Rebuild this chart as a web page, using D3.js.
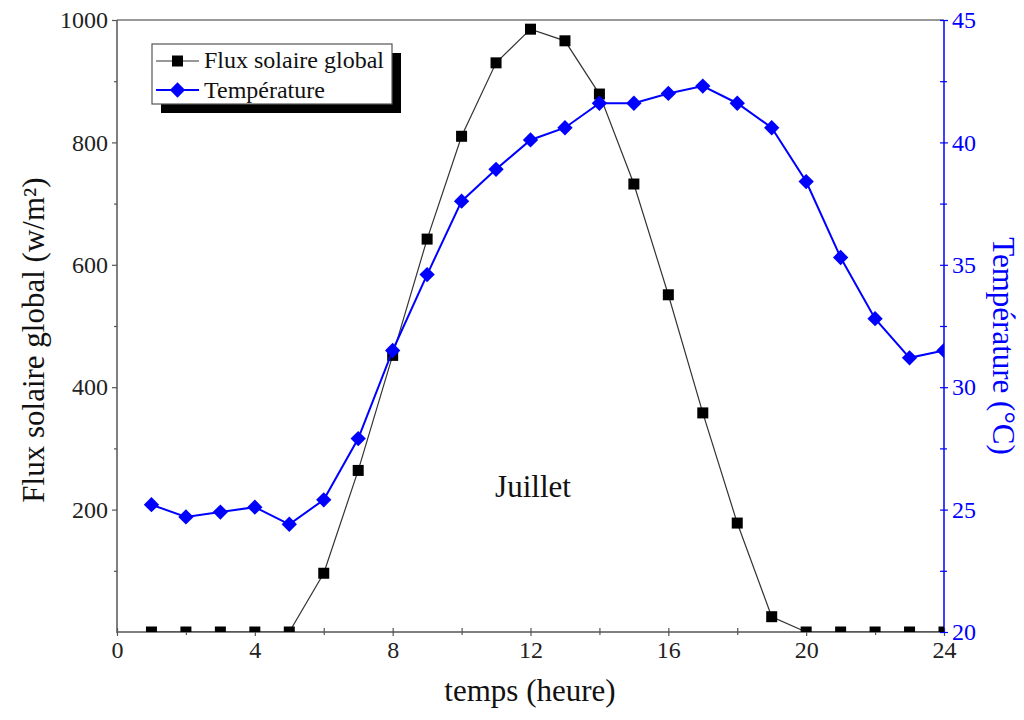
<!DOCTYPE html>
<html>
<head>
<meta charset="utf-8">
<script src="https://cdn.jsdelivr.net/npm/d3@7"></script>
<style>
  body { margin: 0; background: #fff; }
  text { font-family: "Liberation Serif", "Times New Roman", serif; }
</style>
</head>
<body>
<svg id="chart" width="1024" height="720"></svg>
<script>
const hours = [1,2,3,4,5,6,7,8,9,10,11,12,13,14,15,16,17,18,19,20,21,22,23,24];
const flux = [0,0,0,0,0,96,264,452,642,810,930,985,966,879,732,551,358,178,25,0,0,0,0,0];
const temperature = [25.2,24.7,24.9,25.1,24.4,25.4,27.9,31.5,34.6,37.6,38.9,40.1,40.6,41.6,41.6,42.0,42.3,41.6,40.6,38.4,35.3,32.8,31.2,31.5];
const xTicks = [0,4,8,12,16,20,24];
const fluxTicks = [200,400,600,800,1000];
const tempTicks = [20,25,30,35,40,45];
const seriesNames = ["Flux solaire global", "Température"];

const svg = d3.select("#chart");
const L = 117, R = 944, T = 20, B = 632;
const x = d3.scaleLinear().domain([0,24]).range([L,R]);
const yF = d3.scaleLinear().domain([0,1000]).range([B,T]);
const yT = d3.scaleLinear().domain([20,45]).range([B,T]);

const axisGray = "#555";
const blue = "#0000ff";
const tickFont = 24;
const titleFont = 31;

svg.append("defs").append("clipPath").attr("id","plot")
  .append("rect").attr("x",L).attr("y",T).attr("width",R-L).attr("height",B-T);

// top border
svg.append("line").attr("x1",L).attr("x2",R).attr("y1",T).attr("y2",T)
  .attr("stroke","#777").attr("stroke-width",1.5);

// left axis
const gL = svg.append("g").attr("transform",`translate(${L},0)`)
  .call(d3.axisLeft(yF).tickValues(fluxTicks).tickSize(5).tickPadding(4).tickFormat(d3.format("d")));
gL.append("g").call(d3.axisLeft(yF).tickValues([100,300,500,700,900]).tickSize(3).tickFormat(""));
gL.selectAll(".domain").remove();
gL.selectAll("line").attr("stroke",axisGray).attr("stroke-width",1.2);
gL.selectAll("text").attr("font-size",tickFont).attr("fill","#222").attr("font-family","Liberation Serif");
svg.append("line").attr("x1",L).attr("x2",L).attr("y1",T).attr("y2",B+1).attr("stroke",axisGray).attr("stroke-width",1.5);

// bottom axis
const gB = svg.append("g").attr("transform",`translate(0,${B})`)
  .call(d3.axisBottom(x).tickValues(xTicks).tickSize(4).tickPadding(5).tickFormat(d3.format("d")));
gB.append("g").call(d3.axisBottom(x).tickValues([2,6,10,14,18,22]).tickSize(3).tickFormat(""));
gB.selectAll(".domain").remove();
gB.selectAll(".tick line").attr("y1",-4);
gB.selectAll("line").attr("stroke",axisGray).attr("stroke-width",1.2);
gB.selectAll("text").attr("font-size",tickFont).attr("fill","#222").attr("font-family","Liberation Serif");
svg.append("line").attr("x1",L).attr("x2",R).attr("y1",B).attr("y2",B).attr("stroke",axisGray).attr("stroke-width",1.5);

// right axis
const gR = svg.append("g").attr("transform",`translate(${R},0)`)
  .call(d3.axisRight(yT).tickValues(tempTicks).tickSize(4).tickPadding(4).tickFormat(d3.format("d")));
gR.append("g").call(d3.axisRight(yT).tickValues([22.5,27.5,32.5,37.5,42.5]).tickSize(3).tickFormat(""));
gR.selectAll(".domain").remove();
gR.selectAll(".tick line").attr("x1",-4);
gR.selectAll("line").attr("stroke",blue).attr("stroke-width",1.2);
gR.selectAll("text").attr("font-size",tickFont).attr("fill",blue).attr("font-family","Liberation Serif");
svg.append("line").attr("x1",R).attr("x2",R).attr("y1",T).attr("y2",B).attr("stroke",blue).attr("stroke-width",1.5);

// data
const plot = svg.append("g").attr("clip-path","url(#plot)");
const fluxData = hours.map((h,i)=>({h, v:flux[i]}));
const tempData = hours.map((h,i)=>({h, v:temperature[i]}));

plot.append("path").datum(fluxData)
  .attr("d", d3.line().x(d=>x(d.h)).y(d=>yF(d.v)))
  .attr("fill","none").attr("stroke","#333").attr("stroke-width",1.2);
plot.selectAll("rect.flux").data(fluxData).join("rect").attr("class","flux")
  .attr("x",d=>x(d.h)-5.5).attr("y",d=>yF(d.v)-5.5).attr("width",11).attr("height",11)
  .attr("fill","#000");

plot.append("path").datum(tempData)
  .attr("d", d3.line().x(d=>x(d.h)).y(d=>yT(d.v)))
  .attr("fill","none").attr("stroke",blue).attr("stroke-width",2);
const diamond = d3.symbol().type(d3.symbolDiamond2).size(150);
plot.selectAll("path.temp").data(tempData).join("path").attr("class","temp")
  .attr("transform",d=>`translate(${x(d.h)},${yT(d.v)})`)
  .attr("d", diamond()).attr("fill",blue);

// legend
const lg = svg.append("g");
lg.append("rect").attr("x",161).attr("y",53).attr("width",240).attr("height",60).attr("fill","#000");
lg.append("rect").attr("x",152).attr("y",44).attr("width",240).attr("height",60).attr("fill","#fff").attr("stroke","#555").attr("stroke-width",1.2);
lg.append("line").attr("x1",156).attr("x2",199).attr("y1",61).attr("y2",61).attr("stroke","#333").attr("stroke-width",1.2);
lg.append("rect").attr("x",172).attr("y",55.5).attr("width",11).attr("height",11).attr("fill","#000");
lg.append("line").attr("x1",156).attr("x2",199).attr("y1",90).attr("y2",90).attr("stroke",blue).attr("stroke-width",2);
lg.append("path").attr("transform","translate(177.5,90)").attr("d",diamond()).attr("fill",blue);
lg.append("text").attr("x",204).attr("y",68).attr("font-size",24).attr("fill","#111").text(seriesNames[0]);
lg.append("text").attr("x",204).attr("y",98).attr("font-size",24).attr("fill","#111").text(seriesNames[1]);

// annotation
svg.append("text").attr("x",533).attr("y",497).attr("text-anchor","middle").attr("font-size",31).attr("fill","#111").text("Juillet");

// axis titles
svg.append("text").attr("transform",`translate(44,340) rotate(-90)`).attr("text-anchor","middle")
  .attr("font-size",titleFont).attr("fill","#111").text("Flux solaire global (w/m²)");
svg.append("text").attr("x",530).attr("y",701).attr("text-anchor","middle")
  .attr("font-size",titleFont).attr("fill","#111").text("temps (heure)");
svg.append("text").attr("transform",`translate(993,346) rotate(90)`).attr("text-anchor","middle")
  .attr("font-size",titleFont).attr("fill",blue).text("Température (°C)");
</script>
</body>
</html>
